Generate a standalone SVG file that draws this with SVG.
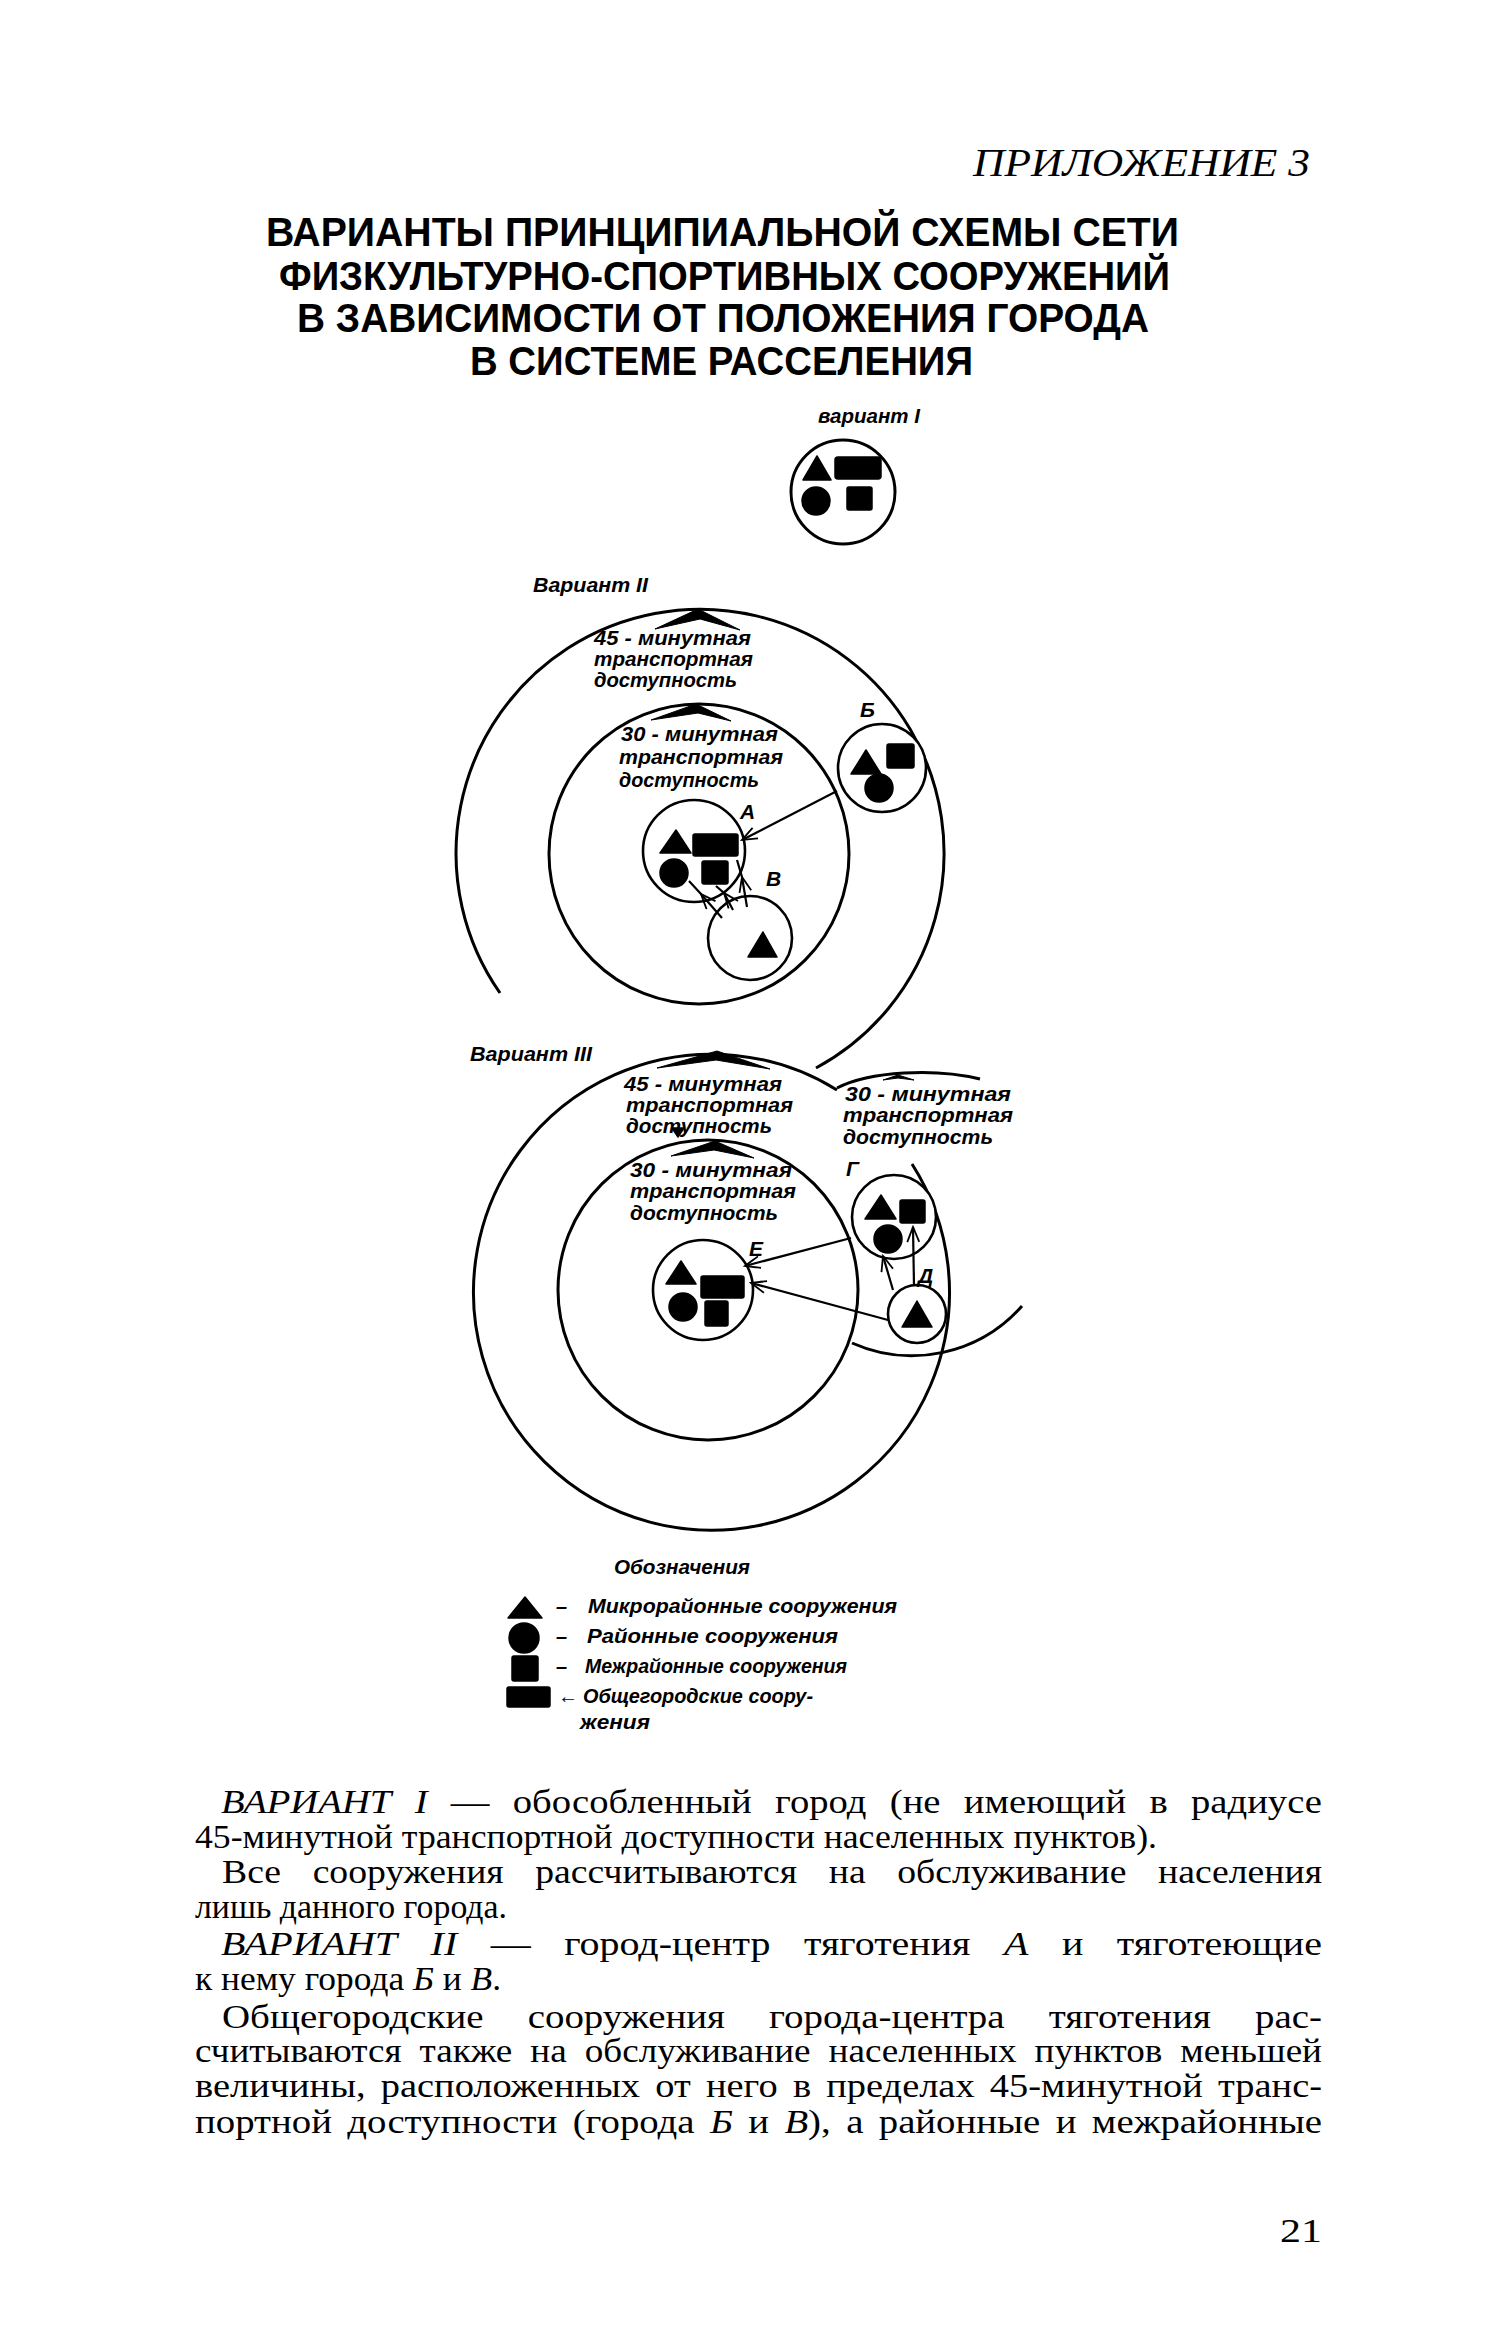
<svg xmlns="http://www.w3.org/2000/svg" width="1501" height="2339" viewBox="0 0 1501 2339">
<defs>
<style>
.ring{fill:none;stroke:#000;stroke-width:3}
.town{fill:#fff;stroke:#000;stroke-width:2.6}
.f{fill:#000;stroke:#000;stroke-width:1.5;stroke-linejoin:round}
.chev{fill:#000;stroke:#000;stroke-width:1;stroke-linejoin:round}
.con{fill:none;stroke:#000;stroke-width:2.2}
.lab{font-family:"Liberation Sans",Arial,sans-serif;font-style:italic;font-weight:bold;font-size:21px;fill:#000}
.leg{font-family:"Liberation Sans",Arial,sans-serif;font-style:italic;font-weight:bold;font-size:20px;fill:#000}
.ttl{font-family:"Liberation Sans",Arial,sans-serif;font-weight:bold;font-size:40px;fill:#000}
.body{font-family:"Liberation Serif","Times New Roman",serif;font-size:34px;fill:#000}
.it{font-style:italic}
</style>
<marker id="arr" markerUnits="userSpaceOnUse" markerWidth="18" markerHeight="14" refX="16" refY="7" orient="auto" viewBox="0 0 18 14">
<path d="M1,1 L16,7 L1,13 M6,3 L16,7 L6,11" fill="none" stroke="#000" stroke-width="1.8"/>
</marker>
</defs>
<rect width="1501" height="2339" fill="#fff"/>

<g id="header">
<text x="973" y="176" font-family="Liberation Serif, serif" font-style="italic" font-size="39" textLength="337" lengthAdjust="spacingAndGlyphs">ПРИЛОЖЕНИЕ 3</text>
<text class="ttl" x="266" y="246" textLength="913" lengthAdjust="spacingAndGlyphs">ВАРИАНТЫ ПРИНЦИПИАЛЬНОЙ СХЕМЫ СЕТИ</text>
<text class="ttl" x="279" y="290" textLength="891" lengthAdjust="spacingAndGlyphs">ФИЗКУЛЬТУРНО-СПОРТИВНЫХ СООРУЖЕНИЙ</text>
<text class="ttl" x="297" y="332" textLength="852" lengthAdjust="spacingAndGlyphs">В ЗАВИСИМОСТИ ОТ ПОЛОЖЕНИЯ ГОРОДА</text>
<text class="ttl" x="470" y="375" textLength="503" lengthAdjust="spacingAndGlyphs">В СИСТЕМЕ РАССЕЛЕНИЯ</text>
</g>

<g id="variant1">
<text class="lab" x="818" y="423" textLength="102" lengthAdjust="spacingAndGlyphs">вариант I</text>
<circle class="ring" cx="843" cy="492" r="52"/>
<polygon class="f" points="817,456 831,480 803,480"/>
<rect class="f" x="835" y="457" width="46" height="22" rx="3"/>
<circle class="f" cx="816" cy="501" r="14"/>
<rect class="f" x="847" y="487" width="25" height="23" rx="2"/>
</g>

<g id="variant2">
<text class="lab" x="533" y="592" textLength="115" lengthAdjust="spacingAndGlyphs">Вариант II</text>
<path id="v2-45" class="ring" d="M500,993 A244,244 0 1 1 816,1068"/>
<polygon class="chev" points="655,629 698,609 740,630 700,619"/>
<text class="lab" x="594" y="645" textLength="157" lengthAdjust="spacingAndGlyphs">45 - минутная</text>
<text class="lab" x="594" y="666" textLength="159" lengthAdjust="spacingAndGlyphs">транспортная</text>
<text class="lab" x="594" y="687" textLength="143" lengthAdjust="spacingAndGlyphs">доступность</text>
<circle id="v2-30" class="ring" cx="699" cy="854" r="150"/>
<polygon class="chev" points="651,720 696,704 731,721 698,713"/>
<text class="lab" x="621" y="741" textLength="157" lengthAdjust="spacingAndGlyphs">30 - минутная</text>
<text class="lab" x="619" y="764" textLength="164" lengthAdjust="spacingAndGlyphs">транспортная</text>
<text class="lab" x="619" y="787" textLength="140" lengthAdjust="spacingAndGlyphs">доступность</text>
</g>

<g id="town-A">
<circle class="town" cx="694" cy="851" r="51"/>
<polygon class="f" points="676,830 691,853 660,853"/>
<rect class="f" x="693" y="834" width="45" height="22" rx="2"/>
<circle class="f" cx="674" cy="873" r="14"/>
<rect class="f" x="702" y="861" width="26" height="23" rx="2"/>
<text class="lab" x="740" y="819">А</text>
</g>

<g id="town-B">
<circle class="town" cx="882" cy="768" r="44"/>
<polygon class="f" points="866,750 881,774 851,774"/>
<rect class="f" x="887" y="744" width="27" height="24" rx="2"/>
<circle class="f" cx="879" cy="788" r="14"/>
<text class="lab" x="860" y="717">Б</text>
</g>

<g id="town-V">
<circle class="town" cx="750" cy="938" r="42"/>
<polygon class="f" points="763,932 777,957 748,957"/>
<text class="lab" x="766" y="886">В</text>
</g>

<g id="variant3">
<text class="lab" x="470" y="1061" textLength="122" lengthAdjust="spacingAndGlyphs">Вариант III</text>
<path id="v3-45" class="ring" d="M912,1164 A238,238 0 1 1 837,1090"/>
<polygon class="chev" points="657,1068 717,1051 770,1069 716,1060"/>
<text class="lab" x="624" y="1091" textLength="158" lengthAdjust="spacingAndGlyphs">45 - минутная</text>
<text class="lab" x="626" y="1112" textLength="167" lengthAdjust="spacingAndGlyphs">транспортная</text>
<text class="lab" x="626" y="1133" textLength="146" lengthAdjust="spacingAndGlyphs">доступность</text>
<polygon class="f" points="672,1128 684,1128 678,1137"/>
<circle id="v3-30" class="ring" cx="708" cy="1290" r="150"/>
<polygon class="chev" points="671,1156 715,1141 754,1158 714,1150"/>
<text class="lab" x="630" y="1177" textLength="162" lengthAdjust="spacingAndGlyphs">30 - минутная</text>
<text class="lab" x="630" y="1198" textLength="166" lengthAdjust="spacingAndGlyphs">транспортная</text>
<text class="lab" x="630" y="1220" textLength="148" lengthAdjust="spacingAndGlyphs">доступность</text>
<path id="g-30-top" class="ring" d="M837,1088 C870,1071 935,1068 980,1079"/>
<path id="g-30-bottom" class="ring" d="M852,1343 A147,147 0 0 0 1022,1306"/>
<polygon class="chev" points="883,1080 898,1075 914,1080 898,1078"/>
<text class="lab" x="845" y="1101" textLength="166" lengthAdjust="spacingAndGlyphs">30 - минутная</text>
<text class="lab" x="843" y="1122" textLength="170" lengthAdjust="spacingAndGlyphs">транспортная</text>
<text class="lab" x="843" y="1144" textLength="150" lengthAdjust="spacingAndGlyphs">доступность</text>
</g>

<g id="town-E">
<circle class="town" cx="703" cy="1290" r="50"/>
<polygon class="f" points="681,1261 696,1284 666,1284"/>
<rect class="f" x="701" y="1276" width="43" height="22" rx="2"/>
<circle class="f" cx="683" cy="1307" r="14"/>
<rect class="f" x="705" y="1301" width="23" height="25" rx="2"/>
<text class="lab" x="749" y="1256">Е</text>
</g>

<g id="town-G">
<circle class="town" cx="894" cy="1217" r="42"/>
<polygon class="f" points="881,1195 896,1219 865,1219"/>
<rect class="f" x="900" y="1200" width="25" height="23" rx="2"/>
<circle class="f" cx="888" cy="1239" r="14"/>
<text class="lab" x="846" y="1176">Г</text>
</g>

<g id="town-D">
<circle class="town" cx="917" cy="1314" r="29"/>
<polygon class="f" points="917,1301 932,1327 902,1327"/>
<text class="lab" x="918" y="1283">Д</text>
</g>

<g id="connectors">
<path class="con" d="M837,791 L742,840" marker-end="url(#arr)"/>
<path class="con" d="M722,918 L701,894 L689,881" marker-mid="url(#arr)"/>
<path class="con" d="M733,910 L724,893 L716,886" marker-mid="url(#arr)"/>
<path class="con" d="M747,907 L742,877 L737,860" marker-mid="url(#arr)"/>
<path class="con" d="M851,1238 L745,1266" marker-end="url(#arr)"/>
<path class="con" d="M888,1320 L751,1283" marker-end="url(#arr)"/>
<path class="con" d="M893,1290 L883,1256" marker-end="url(#arr)"/>
<path class="con" d="M914,1286 L913,1227" marker-end="url(#arr)"/>
</g>

<g id="legend">
<text class="leg" x="614" y="1574" textLength="136" lengthAdjust="spacingAndGlyphs">Обозначения</text>
<polygon class="f" points="525,1597 542,1618 508,1618"/>
<circle class="f" cx="524" cy="1638" r="15"/>
<rect class="f" x="512" y="1656" width="26" height="25" rx="2"/>
<rect class="f" x="507" y="1687" width="43" height="20" rx="2"/>
<text class="leg" x="556" y="1613">–</text>
<text class="leg" x="588" y="1613" textLength="309" lengthAdjust="spacingAndGlyphs">Микрорайонные сооружения</text>
<text class="leg" x="556" y="1643">–</text>
<text class="leg" x="587" y="1643" textLength="251" lengthAdjust="spacingAndGlyphs">Районные сооружения</text>
<text class="leg" x="556" y="1673">–</text>
<text class="leg" x="585" y="1673" textLength="262" lengthAdjust="spacingAndGlyphs">Межрайонные сооружения</text>
<text class="leg" x="558" y="1703">←</text>
<text class="leg" x="583" y="1703" textLength="230" lengthAdjust="spacingAndGlyphs">Общегородские соору-</text>
<text class="leg" x="580" y="1729" textLength="70" lengthAdjust="spacingAndGlyphs">жения</text>
</g>

<g id="body">
<text class="body" x="221" y="1813" word-spacing="12" textLength="1101" lengthAdjust="spacingAndGlyphs"><tspan class="it">ВАРИАНТ I</tspan> — обособленный город (не имеющий в радиусе</text>
<text class="body" x="195" y="1848" textLength="962" lengthAdjust="spacingAndGlyphs">45-минутной транспортной доступности населенных пунктов).</text>
<text class="body" x="222" y="1883" word-spacing="20" textLength="1100" lengthAdjust="spacingAndGlyphs">Все сооружения рассчитываются на обслуживание населения</text>
<text class="body" x="195" y="1918" textLength="312" lengthAdjust="spacingAndGlyphs">лишь данного города.</text>
<text class="body" x="221" y="1955" word-spacing="20" textLength="1101" lengthAdjust="spacingAndGlyphs"><tspan class="it">ВАРИАНТ II</tspan> — город-центр тяготения <tspan class="it">А</tspan> и тяготеющие</text>
<text class="body" x="195" y="1990" textLength="306" lengthAdjust="spacingAndGlyphs">к нему города <tspan class="it">Б</tspan> и <tspan class="it">В</tspan>.</text>
<text class="body" x="222" y="2028" word-spacing="30" textLength="1100" lengthAdjust="spacingAndGlyphs">Общегородские сооружения города-центра тяготения рас-</text>
<text class="body" x="195" y="2062" word-spacing="8" textLength="1127" lengthAdjust="spacingAndGlyphs">считываются также на обслуживание населенных пунктов меньшей</text>
<text class="body" x="195" y="2097" word-spacing="5" textLength="1127" lengthAdjust="spacingAndGlyphs">величины, расположенных от него в пределах 45-минутной транс-</text>
<text class="body" x="195" y="2133" word-spacing="5" textLength="1127" lengthAdjust="spacingAndGlyphs">портной доступности (города <tspan class="it">Б</tspan> и <tspan class="it">В</tspan>), а районные и межрайонные</text>
<text class="body" x="1280" y="2242" textLength="42" lengthAdjust="spacingAndGlyphs">21</text>
</g>
</svg>
